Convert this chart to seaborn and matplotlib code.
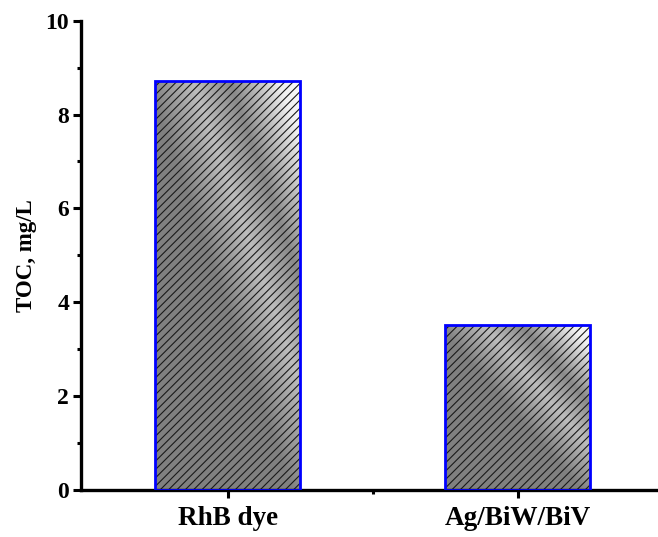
import numpy as np
import pandas as pd
import matplotlib
matplotlib.use('Agg')
import matplotlib.pyplot as plt
from matplotlib.patches import Rectangle
from matplotlib.ticker import MultipleLocator, FixedLocator
import seaborn as sns

sns.set_style('ticks')
plt.rcParams['font.family'] = ['Liberation Serif', 'DejaVu Serif']
plt.rcParams['font.weight'] = 'bold'
plt.rcParams['hatch.linewidth'] = 0.8
plt.rcParams['text.color'] = 'black'
plt.rcParams['axes.labelcolor'] = 'black'
plt.rcParams['xtick.color'] = 'black'
plt.rcParams['ytick.color'] = 'black'
plt.rcParams['axes.edgecolor'] = 'black'

samples = ['RhB dye', 'Ag/BiW/BiV']
toc = [8.71, 3.52]

df = pd.DataFrame({'sample': samples, 'toc': toc})

fig = plt.figure(figsize=(6.58, 5.37), dpi=100)
ax = fig.add_axes([0.123, 0.0875, 0.877, 0.874])

sns.barplot(data=df, x='sample', y='toc', ax=ax, width=0.5,
            facecolor='none', edgecolor='#0000ff', linewidth=2.0)

# diagonal gradient (grey -> light streak -> grey -> white), clipped to each bar
n = 200
u, v = np.meshgrid(np.linspace(0, 1, n), np.linspace(1, 0, n))
t = (u + v) / 2
grad = np.interp(t, [0, 0.47, 0.63, 0.76, 0.93, 1.0],
                 [0.5, 0.5, 0.74, 0.54, 0.94, 0.98])

for p in list(ax.patches):
    x0, y0 = p.get_x(), p.get_y()
    w, h = p.get_width(), p.get_height()
    im = ax.imshow(grad, cmap='gray', vmin=0, vmax=1, aspect='auto',
                   extent=[x0, x0 + w, y0, y0 + h], zorder=1,
                   interpolation='bilinear')
    im.set_clip_path(p)
    ax.add_patch(Rectangle((x0, y0), w, h, facecolor='none', edgecolor='#1a1a1a',
                           linewidth=0, hatch='////', zorder=2))
    p.set_zorder(3)

ax.set_xlim(-0.507, 1.483)
ax.set_ylim(0, 10)
ax.yaxis.set_major_locator(MultipleLocator(2))
ax.yaxis.set_minor_locator(MultipleLocator(1))
ax.xaxis.set_minor_locator(FixedLocator([0.5]))

sns.despine(ax=ax)
for s in ['left', 'bottom']:
    ax.spines[s].set_linewidth(2.4)
ax.tick_params(axis='both', which='major', length=5.5, width=2.2, direction='out')
ax.tick_params(axis='both', which='minor', length=3, width=2.2, direction='out')
ax.tick_params(axis='y', labelsize=17, pad=3)
ax.tick_params(axis='x', labelsize=19.5, pad=6)
for lab in ax.get_xticklabels() + ax.get_yticklabels():
    lab.set_fontweight('bold')

ax.set_xlabel('')
ax.set_ylabel('TOC, mg/L', fontsize=16.5, fontweight='bold', labelpad=6)

fig.savefig('out.png', dpi=100)
